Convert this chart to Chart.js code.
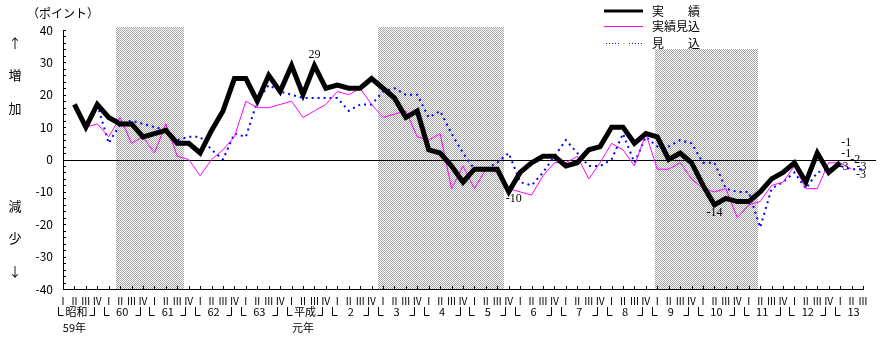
<!DOCTYPE html>
<html lang="ja">
<head>
<meta charset="utf-8">
<title>BSI</title>
<script src="https://cdn.jsdelivr.net/npm/chart.js@4.4.1/dist/chart.umd.min.js"></script>
<style>
  html, body { margin: 0; padding: 0; background: #fff; }
  canvas { display: block; }
</style>
</head>
<body>
<canvas id="bsi" width="889" height="342"></canvas>
<script>
// 四半期: 昭和59年Ⅰ期 〜 平成13年Ⅲ期
const quarterNames = ['Ⅰ', 'Ⅱ', 'Ⅲ', 'Ⅳ'];
const quarterCount = 71;
const yearLabels = ['昭和', '60', '61', '62', '63', '平成', '2', '3', '4', '5', '6', '7', '8', '9', '10', '11', '12', '13'];
const yearNotes = ['59年', '', '', '', '', '元年'];

const jisseki = [null, 17, 10, 17, 13, 11, 11, 7, 8, 9, 5, 5, 2, 9, 15, 25, 25, 18, 26, 21, 29, 20, 29, 22, 23, 22, 22, 25, 22, 19, 13, 15, 3, 2, -2, -7, -3, -3, -3, -10, -4, -1, 1, 1, -2, -1, 3, 4, 10, 10, 5, 8, 7, 0, 2, -1, -8, -14, -12, -13, -13, -10, -6, -4, -1, -7, 2, -4, -1, null, null];
const jissekiMikomi = [null, null, 10, 11, 7, 13, 5, 7, 2, 11, 1, 0, -5, 0, 3, 7, 18, 16, 16, 17, 18, 13, 15, 17, 21, 20, 22, 17, 13, 14, 15, 7, 6, 8, -9, -2, -9, -3, -4, -9, -10, -11, -5, -1, -1, 1, -6, -1, 5, 3, -2, 8, -3, -3, -1, -6, -9, -10, -9, -18, -14, -13, -8, -7, -2, -9, -9, -1, -1, -3, null];
const mikomi = [null, null, null, 17, 5, 11, 12, 11, 10, 9, 6, 7, 7, 3, 0, 8, 7, 18, 23, 21, 20, 19, 19, 19, 19, 15, 17, 17, 21, 22, 20, 20, 13, 15, 8, 2, -3, -3, -1, 2, -7, -8, -4, 1, 6, 2, -2, -2, 0, 8, -1, 7, 4, 4, 6, 5, -1, -1, -9, -10, -10, -21, -9, -7, -4, -9, -4, -3, -2, -3, -3];

// 景気後退期（四半期の位置）
const recessions = [[4.6, 10.6], [27.6, 38.6], [51.8, 60.8]];
const shadeTops = [41, 41, 34];

// 数値ラベル: 系列, 位置, ずらし
const valueLabels = [
  { ds: 0, i: 22, dx: 0, dy: -11 },
  { ds: 0, i: 39, dx: 5, dy: 7 },
  { ds: 0, i: 57, dx: 0, dy: 8 },
  { ds: 0, i: 68, dx: 6, dy: -20 },
  { ds: 1, i: 68, dx: 6, dy: -9 },
  { ds: 1, i: 69, dx: -8, dy: -2 },
  { ds: 2, i: 69, dx: 10, dy: -2 },
  { ds: 2, i: 68, dx: 15, dy: -6 },
  { ds: 2, i: 70, dx: -2, dy: 6 }
];

const sideMarks = [['↑', 43], ['増', 75], ['加', 108], ['減', 206], ['少', 238], ['↓', 271]];

const quarterLabels = [];
for (let i = 0; i < quarterCount; i++) quarterLabels.push(quarterNames[i % 4]);

const JP = '"Noto Sans CJK JP", sans-serif';

function dither(ctx) {
  const c = document.createElement('canvas');
  c.width = 2; c.height = 2;
  const g = c.getContext('2d');
  g.fillStyle = '#ffffff'; g.fillRect(0, 0, 2, 2);
  g.fillStyle = '#a4a4a4'; g.fillRect(0, 0, 1, 1); g.fillRect(1, 1, 1, 1);
  return ctx.createPattern(c, 'repeat');
}

function seg(ctx, pts) {
  ctx.beginPath();
  ctx.moveTo(pts[0][0], pts[0][1]);
  for (let k = 1; k < pts.length; k++) ctx.lineTo(pts[k][0], pts[k][1]);
  ctx.stroke();
}

const decor = {
  id: 'decor',
  beforeDatasetsDraw(chart) {
    const { ctx, chartArea, scales: { x, y } } = chart;
    ctx.save();
    ctx.fillStyle = dither(ctx);
    recessions.forEach((r, k) => {
      const l = Math.round(x.getPixelForValue(r[0]));
      const rt = Math.round(x.getPixelForValue(r[1]));
      const t = Math.round(y.getPixelForValue(shadeTops[k]));
      ctx.fillRect(l, t, rt - l, Math.round(chartArea.bottom) - t);
    });
    const y0 = Math.round(y.getPixelForValue(0)) + 0.5;
    ctx.strokeStyle = '#000';
    ctx.lineWidth = 1;
    seg(ctx, [[chartArea.left, y0], [chartArea.right + 13, y0]]);
    ctx.restore();
  },
  afterDraw(chart) {
    const { ctx, chartArea, scales: { x, y } } = chart;
    const ds = chart.data.datasets;
    ctx.save();
    ctx.strokeStyle = '#000';
    ctx.lineWidth = 1;

    // 目盛り
    for (let v = -40; v <= 40; v += 2) {
      const py = Math.round(y.getPixelForValue(v)) + 0.5;
      seg(ctx, [[chartArea.left, py], [chartArea.left + 3, py]]);
    }
    for (let i = 0; i < quarterCount; i++) {
      const px = Math.round(x.getPixelForValue(i)) + 0.5;
      seg(ctx, [[px, chartArea.bottom], [px, chartArea.bottom - 3]]);
    }

    // 年の括り
    ctx.fillStyle = '#000';
    ctx.textAlign = 'center';
    ctx.textBaseline = 'middle';
    ctx.font = '11px ' + JP;
    yearLabels.forEach((t, k) => {
      const i = k * 4;
      const xI = Math.round(x.getPixelForValue(i)) + 0.5;
      const xII = x.getPixelForValue(i + 1);
      const xIII = Math.round(x.getPixelForValue(i + 2)) + 0.5;
      seg(ctx, [[xI - 5, 307], [xI - 5, 315.5], [xI, 315.5]]);
      if (i + 3 < quarterCount) seg(ctx, [[xIII + 3, 315.5], [xIII + 8, 315.5], [xIII + 8, 307]]);
      ctx.fillText(t, xII + 2, 312);
      if (yearNotes[k]) ctx.fillText(yearNotes[k], xII, 328);
    });

    // 数値ラベル
    ctx.font = '12px "Liberation Serif", serif';
    valueLabels.forEach(l => {
      const v = ds[l.ds].data[l.i];
      const px = x.getPixelForValue(l.i) + l.dx;
      const py = y.getPixelForValue(v) + l.dy;
      ctx.fillText(String(v), px, py);
    });

    // 縦軸の見出し
    ctx.font = '13px ' + JP;
    sideMarks.forEach(m => ctx.fillText(m[0], 15, m[1]));
    ctx.textAlign = 'left';
    ctx.font = '12px ' + JP;
    ctx.fillText('（ポイント）', 27, 13);

    // 凡例
    const rows = [11, 26, 43];
    ds.forEach((d, k) => {
      ctx.strokeStyle = d.borderColor;
      ctx.lineWidth = k === 0 ? 3 : 1;
      ctx.setLineDash(k === 2 ? [1, 2] : []);
      const ly = rows[k] + (k === 0 ? 0 : 0.5);
      if (k === 2) {
        seg(ctx, [[606, ly], [619, ly]]);
        seg(ctx, [[629, ly], [642, ly]]);
      } else {
        seg(ctx, [[604, ly], [643, ly]]);
      }
      ctx.setLineDash([]);
      ctx.fillStyle = '#000';
      ctx.fillText(d.label, 652, rows[k]);
    });
    ctx.restore();
  }
};

new Chart(document.getElementById('bsi'), {
  type: 'line',
  data: {
    labels: quarterLabels,
    datasets: [
      { label: '実　　績', data: jisseki, borderColor: '#000000', borderWidth: 5, pointRadius: 0, tension: 0 },
      { label: '実績見込', data: jissekiMikomi, borderColor: '#ff00ff', borderWidth: 1, pointRadius: 0, tension: 0 },
      { label: '見　　込', data: mikomi, borderColor: '#0000ff', borderWidth: 2, borderDash: [2, 4], pointRadius: 0, tension: 0 }
    ]
  },
  options: {
    responsive: false,
    animation: false,
    devicePixelRatio: 1,
    layout: { padding: { top: 30, right: 26, left: 0, bottom: 0 } },
    plugins: { legend: { display: false }, tooltip: { enabled: false } },
    scales: {
      x: {
        grid: { display: false, drawTicks: false },
        border: { color: '#000', width: 1 },
        ticks: { autoSkip: false, maxRotation: 0, minRotation: 0, padding: 6, color: '#000', font: { family: JP, size: 10 } },
        afterFit(s) { s.height = 53; }
      },
      y: {
        min: -40,
        max: 40,
        grid: { display: false, drawTicks: false },
        border: { color: '#000', width: 1 },
        ticks: { stepSize: 10, padding: 10, color: '#000', font: { family: JP, size: 12 } },
        afterFit(s) { s.width = 63; }
      }
    }
  },
  plugins: [decor]
});
</script>
</body>
</html>
